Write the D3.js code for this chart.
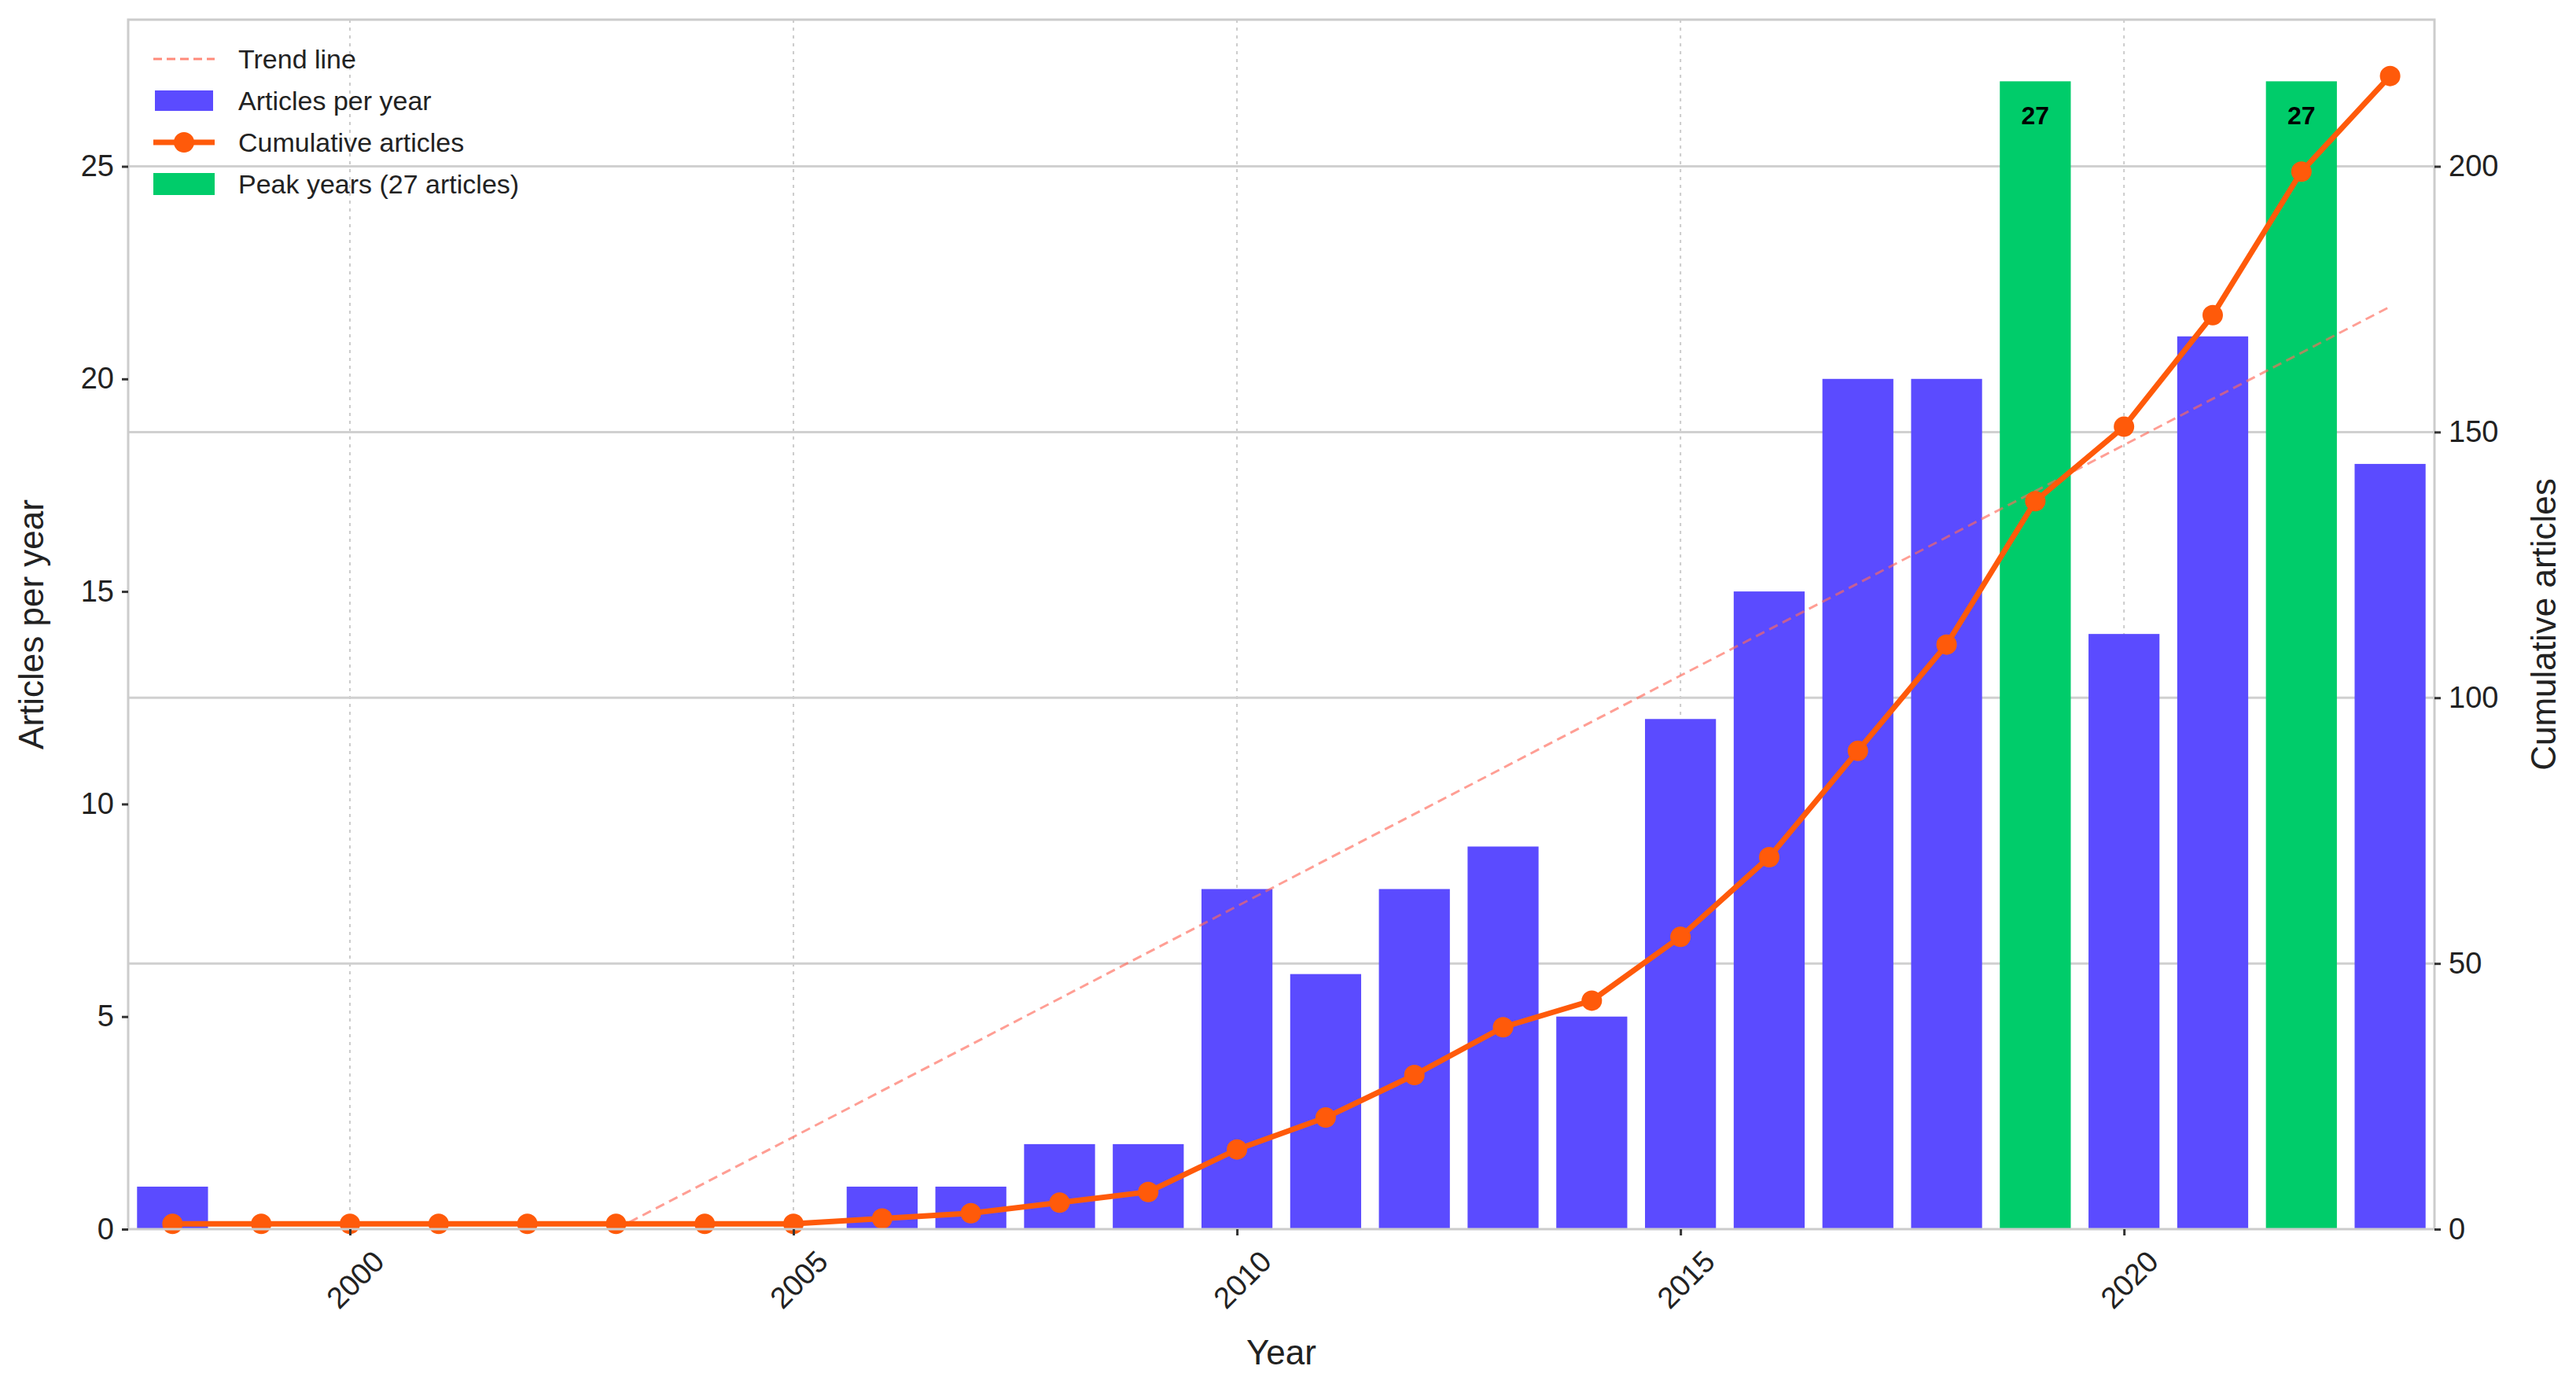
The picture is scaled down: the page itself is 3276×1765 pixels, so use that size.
<!DOCTYPE html>
<html><head><meta charset="utf-8">
<script src="https://cdn.jsdelivr.net/npm/d3@7"></script>
<style>
body{margin:0;background:#fff;}
text{font-family:"Liberation Sans",Arial,sans-serif;fill:#222;}
</style></head>
<body><svg id="chart"></svg>
<script>
var years = d3.range(1998, 2024);
var perYear = [1,0,0,0,0,0,0,0,1,1,2,2,8,6,8,9,5,12,15,20,20,27,14,21,27,18];
var cumulative = [1,1,1,1,1,1,1,1,2,3,5,7,15,21,29,38,43,55,70,90,110,137,151,172,199,217];
var peakYears = [2019, 2022];
var trendYears = [2003, 2023];
var trendValues = [0, 21.7];
var xTicks = [2000, 2005, 2010, 2015, 2020];
var leftTicks = [0, 5, 10, 15, 20, 25];
var rightTicks = [0, 50, 100, 150, 200];

var W = 3276, H = 1765,
    pLeft = 163, pRight = 3096, pTop = 25, pBottom = 1563;

var svg = d3.select("#chart").attr("width", W).attr("height", H);

var x = d3.scaleLinear().domain([1997.5, 2023.5]).range([pLeft, pRight]);
var y = d3.scaleLinear().domain([0, 28.45]).range([pBottom, pTop]);
var y2 = d3.scaleLinear().domain([0, 28.45 * 8]).range([pBottom, pTop]);
var barW = (x(1998.8) - x(1998));
var blue = "#5b4bff", green = "#00cc6a", orange = "#ff5a0a";

// grid: vertical dotted, horizontal from right axis
svg.append("g").selectAll("line").data(xTicks).enter().append("line")
  .attr("x1", d => x(d)).attr("x2", d => x(d)).attr("y1", pTop).attr("y2", pBottom)
  .attr("stroke", "#ccc").attr("stroke-width", 2).attr("stroke-dasharray", "4,6");
svg.append("g").selectAll("line").data(rightTicks.slice(1)).enter().append("line")
  .attr("x1", pLeft).attr("x2", pRight).attr("y1", d => y2(d)).attr("y2", d => y2(d))
  .attr("stroke", "#d0d0d0").attr("stroke-width", 3);

// bars
svg.append("g").selectAll("rect").data(years).enter().append("rect")
  .attr("x", (d) => x(d) - barW / 2)
  .attr("width", barW)
  .attr("y", (d, i) => y(perYear[i]))
  .attr("height", (d, i) => pBottom - y(perYear[i]))
  .attr("fill", d => peakYears.indexOf(d) >= 0 ? green : blue);

// labels on peaks
svg.append("g").selectAll("text").data(peakYears).enter().append("text")
  .attr("x", d => x(d)).attr("y", d => y(perYear[years.indexOf(d)]) + 55)
  .attr("text-anchor", "middle").attr("font-size", 32).attr("font-weight", "bold")
  .style("fill", "#000").text(d => perYear[years.indexOf(d)]);

// trend line
svg.append("path").datum(trendYears.map((d, i) => [d, trendValues[i]]))
  .attr("d", d3.line().x(d => x(d[0])).y(d => y(d[1])))
  .attr("fill", "none").attr("stroke", "#ff6a5a").attr("stroke-opacity", 0.65)
  .attr("stroke-width", 3).attr("stroke-dasharray", "12,7");

// cumulative line
svg.append("path").datum(years)
  .attr("d", d3.line().x(d => x(d)).y((d, i) => y2(cumulative[i])))
  .attr("fill", "none").attr("stroke", orange).attr("stroke-width", 7);
svg.append("g").selectAll("circle").data(years).enter().append("circle")
  .attr("cx", d => x(d)).attr("cy", (d, i) => y2(cumulative[i]))
  .attr("r", 13).attr("fill", orange);

// frame
svg.append("rect").attr("x", pLeft).attr("y", pTop).attr("width", pRight - pLeft).attr("height", pBottom - pTop)
  .attr("fill", "none").attr("stroke", "#ccc").attr("stroke-width", 3);

// axes
var gl = svg.append("g").attr("transform", "translate(" + pLeft + ",0)")
  .call(d3.axisLeft(y).tickValues(leftTicks).tickSize(8).tickPadding(10));
var gr = svg.append("g").attr("transform", "translate(" + pRight + ",0)")
  .call(d3.axisRight(y2).tickValues(rightTicks).tickSize(8).tickPadding(10));
var gx = svg.append("g").attr("transform", "translate(0," + pBottom + ")")
  .call(d3.axisBottom(x).tickValues(xTicks).tickFormat(d3.format("d")).tickSize(8).tickPadding(10));
[gl, gr, gx].forEach(function(g) {
  g.select(".domain").remove();
  g.selectAll(".tick line").attr("stroke", "#333").attr("stroke-width", 3);
  g.selectAll("text").attr("font-size", 38).style("fill", "#222");
});
gx.selectAll("text").attr("text-anchor", "end")
  .attr("transform", "translate(14,12) rotate(-45)").attr("dy", "0.7em");

svg.append("text").attr("x", (pLeft + pRight) / 2).attr("y", 1735).attr("text-anchor", "middle")
  .attr("font-size", 44).text("Year");
svg.append("text").attr("transform", "translate(55," + (pTop + pBottom) / 2 + ") rotate(-90)")
  .attr("text-anchor", "middle").attr("font-size", 44).text("Articles per year");
svg.append("text").attr("transform", "translate(3250," + (pTop + pBottom) / 2 + ") rotate(-90)")
  .attr("text-anchor", "middle").attr("font-size", 44).text("Cumulative articles");

// legend
var leg = svg.append("g").attr("transform", "translate(195,75)");
var items = ["Trend line", "Articles per year", "Cumulative articles", "Peak years (27 articles)"];
items.forEach(function(t, i) {
  var g = leg.append("g").attr("transform", "translate(0," + i * 53 + ")");
  if (i === 0) g.append("line").attr("x1", 0).attr("x2", 78).attr("stroke", "#ff8a7a")
    .attr("stroke-width", 3).attr("stroke-dasharray", "11,6");
  if (i === 1) g.append("rect").attr("x", 2).attr("y", -13).attr("width", 74).attr("height", 26).attr("fill", blue);
  if (i === 2) {
    g.append("line").attr("x1", 0).attr("x2", 78).attr("stroke", orange).attr("stroke-width", 7);
    g.append("circle").attr("cx", 39).attr("r", 13).attr("fill", orange);
  }
  if (i === 3) g.append("rect").attr("x", 0).attr("y", -14).attr("width", 78).attr("height", 28).attr("fill", green);
  g.append("text").attr("x", 108).attr("dy", "0.35em").attr("font-size", 34).text(t);
});
</script></body></html>
